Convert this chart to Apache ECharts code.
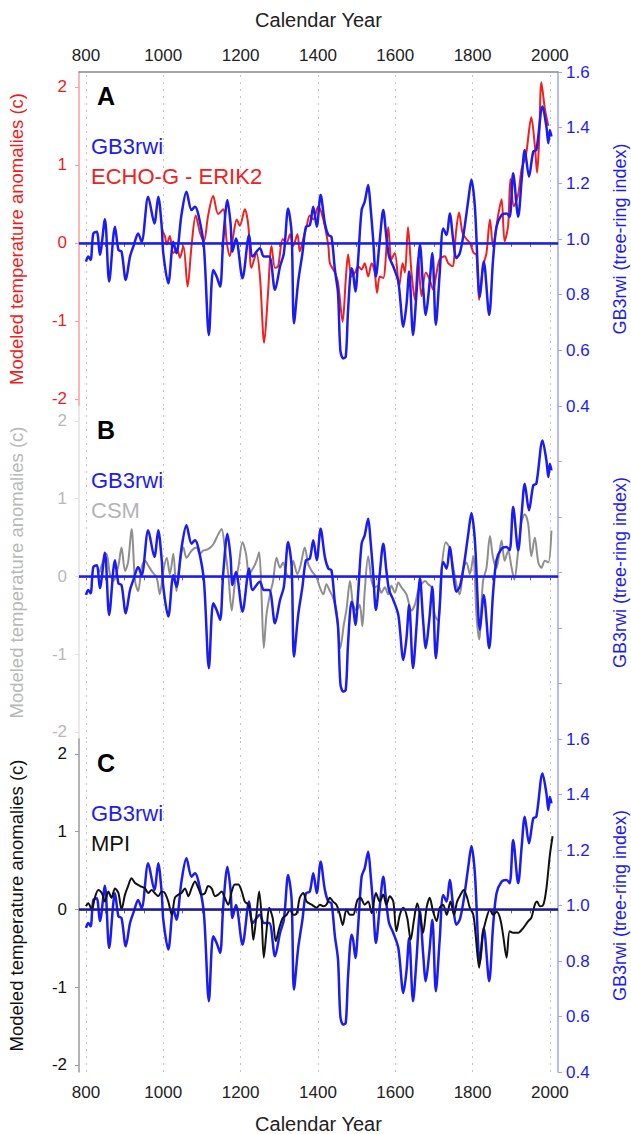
<!DOCTYPE html>
<html>
<head>
<meta charset="utf-8">
<script src="https://cdn.jsdelivr.net/npm/echarts@6/dist/echarts.min.js"></script>
<style>
html, body { margin: 0; padding: 0; background: #fff; }
#chart { width: 631px; height: 1134px; }
</style>
</head>
<body>
<div id="chart"></div>
<script>
// GB3rwi tree-ring index (same curve in all three panels)
var gbYears = [800,806,812,819,828,836,849,860,875,884,892,903,914,924,935,944,961,977,987,996,1000,1013,1026,1034,1047,1060,1073,1082,1091,1105,1118,1129,1138,1147,1155,1166,1174,1179,1188,1205,1222,1231,1250,1260,1274,1289,1302,1312,1323,1332,1338,1349,1360,1369,1379,1388,1397,1407,1418,1427,1435,1444,1452,1458,1465,1472,1478,1487,1491,1497,1504,1513,1521,1530,1536,1543,1550,1560,1569,1577,1584,1595,1608,1621,1629,1636,1646,1655,1664,1672,1679,1688,1696,1705,1715,1724,1733,1741,1750,1758,1767,1777,1789,1797,1806,1819,1829,1843,1853,1862,1875,1888,1896,1905,1918,1927,1935,1946,1957,1965,1981,1991,1996,2000,2004];
var gbIndex = [0.919,0.937,0.925,1.020,1.026,0.943,1.071,0.847,1.044,0.961,0.955,0.853,0.937,0.979,1.020,0.990,1.152,1.056,1.152,1.044,0.949,0.841,0.990,0.949,1.086,1.170,1.104,1.116,1.086,0.973,0.655,0.889,0.865,0.829,0.996,1.140,1.056,0.955,1.002,0.859,1.014,0.937,0.967,0.937,0.937,0.817,0.901,0.949,1.110,1.020,0.697,0.847,0.949,1.044,1.050,1.116,1.044,1.158,1.056,1.014,1.008,0.889,0.805,0.601,0.571,0.577,0.745,0.895,0.877,0.811,0.925,1.104,1.134,1.194,1.116,0.996,0.865,0.996,1.104,1.008,0.937,0.901,0.847,0.685,0.763,0.883,0.655,0.805,0.979,0.829,0.727,0.829,0.949,0.691,0.877,1.038,1.014,1.092,0.996,0.931,0.949,1.020,1.140,1.214,1.116,0.793,0.919,0.727,0.925,1.044,1.086,1.092,1.080,1.236,1.080,1.212,1.320,1.224,1.314,1.320,1.476,1.404,1.344,1.392,1.368];

// ECHO-G - ERIK2 modeled anomalies (panel A)
var echoYears = [996,1004,1009,1017,1026,1036,1043,1052,1063,1073,1084,1095,1105,1116,1129,1142,1155,1164,1172,1181,1190,1198,1211,1220,1228,1241,1250,1261,1271,1280,1289,1297,1309,1319,1328,1336,1347,1353,1362,1371,1379,1388,1401,1414,1427,1431,1444,1452,1464,1472,1478,1487,1496,1504,1513,1521,1530,1539,1547,1553,1560,1569,1582,1590,1599,1610,1619,1625,1633,1642,1651,1659,1668,1679,1689,1698,1707,1715,1728,1737,1748,1757,1765,1774,1784,1793,1803,1810,1817,1827,1836,1845,1853,1866,1875,1883,1892,1898,1907,1918,1927,1938,1952,1961,1967,1972,1978,1987,1996];
var echoAnom = [0.17,0.09,-0.02,0.09,-0.13,-0.08,-0.19,-0.04,-0.56,-0.04,0.35,0.13,0.02,0.35,0.60,0.37,0.43,0.02,-0.17,0.09,0.30,0.22,0.43,0.22,-0.32,-0.13,-0.43,-1.28,-0.64,-0.04,-0.32,-0.30,0.05,0.00,0.11,-0.04,0.11,-0.11,0.05,0.22,0.35,0.30,0.47,0.30,-0.04,-0.26,-0.38,-0.51,-1.01,-0.47,-0.15,-0.43,-0.38,-0.30,-0.34,-0.26,-0.43,-0.26,-0.38,-0.64,-0.43,-0.45,0.20,-0.21,-0.13,-0.56,-0.26,-0.38,0.20,-0.38,-0.73,-0.19,-0.68,-0.38,-0.47,-0.60,-0.38,-0.21,-0.17,-0.26,-0.30,0.13,0.39,0.13,0.05,0.00,-0.13,-0.15,-0.73,-0.30,-0.13,0.30,-0.04,0.35,0.56,0.02,0.22,0.82,0.47,0.62,0.95,1.12,1.61,1.25,0.90,1.29,2.06,1.72,1.50];

// CSM modeled anomalies (panel B)
var csmYears = [835,853,862,871,884,892,901,909,918,927,935,944,953,961,970,983,991,1000,1009,1017,1026,1034,1043,1052,1060,1073,1086,1095,1103,1116,1129,1142,1151,1159,1168,1177,1185,1194,1205,1214,1222,1233,1241,1248,1254,1260,1267,1276,1284,1293,1302,1310,1319,1328,1336,1347,1355,1366,1375,1384,1397,1405,1414,1422,1431,1439,1448,1458,1467,1474,1483,1491,1500,1508,1515,1521,1530,1539,1547,1556,1564,1573,1582,1590,1599,1608,1616,1629,1642,1651,1659,1668,1677,1685,1694,1702,1711,1720,1731,1740,1748,1758,1767,1776,1784,1793,1802,1810,1817,1827,1836,1845,1853,1862,1875,1883,1892,1901,1908,1918,1927,1935,1944,1952,1961,1970,1978,1987,1996,2004];
var csmAnom = [0.05,0.29,0.03,-0.06,0.14,0.37,0.07,0.18,0.61,-0.06,-0.19,0.11,0.20,0.14,0.07,-0.02,-0.23,0.07,0.24,0.03,0.29,-0.19,0.18,0.37,0.24,0.33,0.37,0.29,0.33,0.35,0.41,0.54,0.61,0.37,0.03,-0.44,-0.10,0.11,0.44,0.29,0.03,0.11,0.20,0.31,-0.23,-0.92,-0.49,-0.23,-0.06,0.24,0.11,0.18,0.03,-0.02,0.20,0.03,0.14,0.37,0.16,0.07,-0.02,-0.14,-0.23,-0.10,-0.19,-0.27,-0.44,-0.92,-0.62,-0.42,-0.06,-0.36,-0.44,-0.36,-0.64,-0.19,0.26,-0.06,-0.14,-0.12,-0.21,-0.14,-0.23,-0.12,-0.21,-0.08,-0.14,-0.23,-0.44,-0.36,-0.19,-0.10,-0.06,-0.10,-0.14,-0.49,-0.57,0.11,0.44,0.37,0.18,-0.10,-0.23,0.11,0.18,0.03,0.26,-0.49,-0.81,-0.06,0.11,0.52,0.24,0.11,0.46,0.20,0.33,0.11,-0.04,0.33,0.71,0.80,0.67,0.26,0.50,0.18,0.11,0.20,0.18,0.59];

// MPI modeled anomalies (panel C)
var mpiYears = [800,806,815,823,832,841,849,858,866,875,884,892,901,909,918,927,940,953,961,970,978,987,996,1004,1013,1022,1030,1039,1047,1056,1065,1073,1082,1091,1099,1108,1116,1125,1134,1142,1151,1159,1168,1177,1185,1194,1203,1211,1220,1228,1233,1241,1248,1254,1260,1267,1274,1283,1291,1300,1309,1319,1328,1336,1345,1353,1362,1371,1384,1397,1405,1414,1422,1431,1439,1448,1457,1464,1474,1483,1491,1502,1510,1521,1530,1539,1550,1560,1569,1577,1586,1595,1603,1612,1621,1631,1640,1648,1657,1665,1672,1681,1689,1698,1707,1715,1724,1733,1743,1752,1760,1769,1777,1786,1793,1802,1808,1817,1826,1834,1845,1853,1862,1871,1879,1888,1896,1905,1918,1931,1944,1952,1961,1967,1974,1983,1991,2000,2007];
var mpiAnom = [0.04,0.08,0.00,0.15,0.25,0.21,0.10,0.23,0.15,0.27,0.21,0.00,0.19,0.30,0.40,0.34,0.30,0.27,0.21,0.25,0.21,0.17,0.23,0.21,0.10,-0.07,0.15,0.19,0.21,0.27,0.17,0.27,0.36,0.27,0.19,0.21,0.30,0.27,0.17,0.19,0.23,0.15,0.06,0.23,0.32,0.32,0.23,0.10,0.06,-0.13,-0.39,-0.07,0.23,-0.07,-0.62,-0.28,0.02,-0.11,-0.41,-0.24,-0.11,-0.07,0.00,-0.07,-0.05,0.15,0.21,0.10,0.06,0.02,0.06,0.04,0.06,0.15,0.10,0.06,-0.07,-0.20,0.00,-0.07,-0.07,0.12,0.15,0.06,0.10,-0.05,0.21,0.10,0.19,0.06,0.17,0.10,-0.28,-0.07,0.02,-0.11,-0.39,-0.15,0.08,-0.11,-0.30,0.02,0.15,-0.03,-0.15,0.02,0.06,-0.07,0.10,-0.07,0.10,0.19,0.25,0.15,0.02,-0.07,-0.33,-0.75,-0.33,-0.15,0.00,-0.07,-0.03,-0.11,-0.33,-0.62,-0.28,-0.30,-0.30,-0.24,-0.15,-0.11,0.06,0.10,0.04,0.06,0.27,0.70,0.94];

// axis ticks
var yearLabels = [800,1000,1200,1400,1600,1800,2000];
var yearTicks = [800,850,900,950,1000,1050,1100,1150,1200,1250,1300,1350,1400,1450,1500,1550,1600,1650,1700,1750,1800,1850,1900,1950,2000];
var anomTicks = [-2,-1,0,1,2];
var rwiTicks = [0.4,0.6,0.8,1.0,1.2,1.4,1.6];

var FONT = "'Liberation Sans', Arial, sans-serif";
var BLUE = '#1c1cf2';

function zip(xs, ys) {
    var out = [];
    for (var i = 0; i < Math.min(xs.length, ys.length); i++) out.push([xs[i], ys[i]]);
    return out;
}
function plainYear(v) { return String(Math.round(v)); }

var tops = [72, 406, 739];
var heights = [334, 333, 333];

var panels = [
    { letter: 'A', model: 'ECHO-G - ERIK2', years: echoYears, vals: echoAnom, color: '#f02020', nameColor: '#f21b1b', axisColor: '#ff9c9c', legendColor: '#f02020', rightLabels: true },
    { letter: 'B', model: 'CSM', years: csmYears, vals: csmAnom, color: '#8e8e8e', nameColor: '#b8b8b8', axisColor: '#e2e2e2', legendColor: '#b4b4b4', rightLabels: false },
    { letter: 'C', model: 'MPI', years: mpiYears, vals: mpiAnom, color: '#111111', nameColor: '#111111', axisColor: '#9a9a9a', legendColor: '#111111', rightLabels: true }
];

var grids = [], xAxes = [], yAxes = [], series = [], graphics = [];

panels.forEach(function (p, i) {
    grids.push({ left: 79, right: 73, top: tops[i], height: heights[i], containLabel: false, outerBoundsMode: 'none' });

    xAxes.push({
        type: 'value', gridIndex: i, position: 'bottom', min: 782, max: 2021,
        axisLine: { show: true, lineStyle: { color: '#8a8a8a', width: 1.5 } },
        axisTick: { show: true, customValues: yearTicks, length: 4, inside: false, lineStyle: { color: '#666' } },
        axisLabel: {
            show: i === 2, customValues: yearLabels, margin: 12, formatter: plainYear,
            color: '#222', fontSize: 17, fontFamily: FONT
        },
        splitLine: { show: false },
        name: i === 2 ? 'Calendar Year' : '', nameLocation: 'middle', nameGap: 42,
        nameTextStyle: { color: '#222', fontSize: 20, fontFamily: FONT }
    });

    yAxes.push({
        type: 'value', gridIndex: i, position: 'left', min: -2.09, max: 2.19,
        axisLine: { show: true, lineStyle: { color: p.axisColor, width: 1.5 } },
        axisTick: { show: true, customValues: anomTicks, length: 4, lineStyle: { color: p.axisColor } },
        axisLabel: { customValues: anomTicks, color: p.nameColor, fontSize: 17, fontFamily: FONT, margin: 12 },
        splitLine: { show: false },
        name: 'Modeled temperature anomalies (c)', nameLocation: 'middle', nameGap: 53, nameRotate: 90,
        nameTextStyle: { color: p.nameColor, fontSize: 18.5, fontFamily: FONT }
    });
    yAxes.push({
        type: 'value', gridIndex: i, position: 'right', min: 0.4, max: 1.6,
        axisLine: { show: true, lineStyle: { color: '#a0a0ff', width: 1.5 } },
        axisTick: { show: true, customValues: rwiTicks, length: 4, lineStyle: { color: '#a0a0ff' } },
        axisLabel: {
            show: p.rightLabels, customValues: rwiTicks, color: BLUE, fontSize: 17, fontFamily: FONT, margin: 8,
            formatter: function (v) { return v.toFixed(1); }
        },
        splitLine: { show: false },
        name: 'GB3rwi (tree-ring index)', nameLocation: 'middle', nameGap: 53, nameRotate: 90,
        nameTextStyle: { color: BLUE, fontSize: 18, fontFamily: FONT }
    });

    // dotted year grid lines
    series.push({
        type: 'line', xAxisIndex: i, yAxisIndex: i * 2, data: [], silent: true,
        markLine: {
            silent: true, symbol: ['none', 'none'], label: { show: false }, z: 1, animation: false,
            lineStyle: { color: '#c4c4c4', type: [2, 5], width: 1 },
            data: yearLabels.map(function (y) { return { xAxis: y }; })
        }
    });

    // model curve + zero line
    series.push({
        type: 'line', name: p.model, xAxisIndex: i, yAxisIndex: i * 2,
        data: zip(p.years, p.vals), showSymbol: false, smooth: 0.3, z: 2,
        lineStyle: { color: p.color, width: 2 },
        markLine: {
            silent: true, symbol: ['none', 'none'], label: { show: false }, animation: false,
            lineStyle: { color: i === 2 ? '#1a1a9a' : BLUE, type: 'solid', width: 2.5 },
            data: [{ yAxis: 0 }]
        }
    });

    // GB3rwi
    series.push({
        type: 'line', name: 'GB3rwi', xAxisIndex: i, yAxisIndex: i * 2 + 1,
        data: zip(gbYears, gbIndex), showSymbol: false, smooth: 0.3, z: i === 2 ? 1 : 3,
        lineStyle: { color: BLUE, width: 2.5 }
    });

    graphics.push({ type: 'text', left: 97, top: tops[i] + 11, style: { text: p.letter, fill: '#000', font: 'bold 25px ' + FONT } });
    graphics.push({ type: 'text', left: 91, top: tops[i] + 63, style: { text: 'GB3rwi', fill: BLUE, font: '22px ' + FONT } });
    graphics.push({ type: 'text', left: 91, top: tops[i] + 93, style: { text: p.model, fill: p.legendColor, font: '22px ' + FONT } });
});

// top year axis of panel A
xAxes.push({
    type: 'value', gridIndex: 0, position: 'top', min: 782, max: 2021,
    axisLine: { show: true, lineStyle: { color: '#8a8a8a', width: 1.5 } },
    axisTick: { show: false },
    axisLabel: { customValues: yearLabels, margin: 8, formatter: plainYear, color: '#222', fontSize: 17, fontFamily: FONT },
    splitLine: { show: false },
    name: 'Calendar Year', nameLocation: 'middle', nameGap: 42,
    nameTextStyle: { color: '#222', fontSize: 20, fontFamily: FONT }
});

var chart = echarts.init(document.getElementById('chart'), null, { renderer: 'svg' });
chart.setOption({
    animation: false,
    backgroundColor: '#fff',
    grid: grids,
    xAxis: xAxes,
    yAxis: yAxes,
    series: series,
    graphic: graphics
});
</script>
</body>
</html>
